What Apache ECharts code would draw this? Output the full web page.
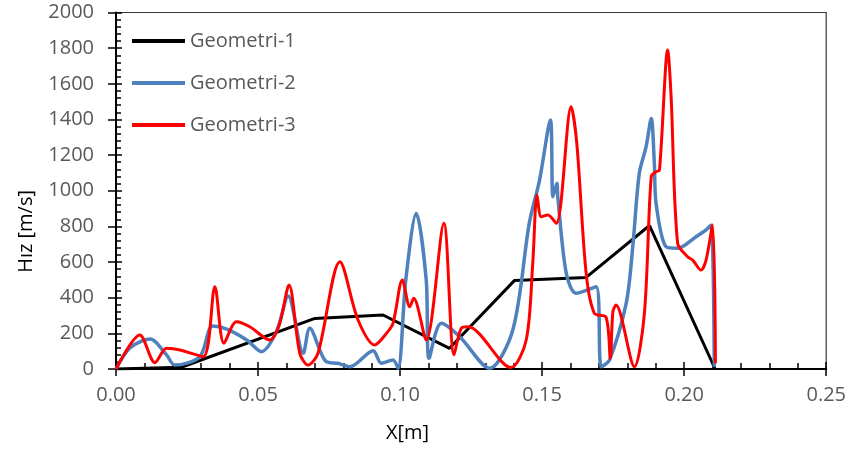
<!DOCTYPE html>
<html><head><meta charset="utf-8">
<script src="https://cdn.jsdelivr.net/npm/echarts@6/dist/echarts.min.js"></script>
<style>html,body{margin:0;padding:0;background:#fff}#c{width:849px;height:459px}</style>
</head><body><div id="c"></div>
<script>
const seriesNames = ['Geometri-1', 'Geometri-2', 'Geometri-3'];
const xTickLabels = ['0.00','0.05','0.10','0.15','0.20','0.25'];
const yTickLabels = ['0','200','400','600','800','1000','1200','1400','1600','1800','2000'];

const g1X = [0, 0.023, 0.070, 0.094, 0.1174, 0.1403, 0.1655, 0.1878, 0.2109];
const g1Y = [0, 10, 284, 303, 116, 497, 514, 805, 0];

const g2X = [0, 0.005, 0.012, 0.0178, 0.0207, 0.0295, 0.034, 0.039, 0.046, 0.0512, 0.0565, 0.0606,
  0.0659, 0.0682, 0.074, 0.078, 0.0823, 0.0905, 0.0934, 0.0975, 0.0993, 0.102, 0.1057, 0.1092, 0.1102,
  0.1145, 0.121, 0.1315, 0.1397, 0.1455, 0.1491, 0.1529, 0.1538, 0.1552, 0.1555, 0.1585, 0.162, 0.169,
  0.1708, 0.1737, 0.1796, 0.1819, 0.1842, 0.1866, 0.1884, 0.1895, 0.1901, 0.1936, 0.1977, 0.2042, 0.2077,
  0.2095, 0.2106];
const g2Y = [0, 120, 168, 79, 22, 69, 241, 224, 163, 97, 210, 410,
  88, 228, 41, 32, 13, 103, 32, 50, 4, 499, 873, 499, 60,
  256, 181, 4, 220, 820, 1060, 1397, 967, 1042, 967, 537, 425, 462,
  13, 50, 369, 686, 1098, 1247, 1406, 1154, 930, 686, 677, 742, 780,
  808, 13];

const g3X = [0, 0.0084, 0.0137, 0.0178, 0.0225, 0.0307, 0.0348, 0.038, 0.0424, 0.0471, 0.0541, 0.0575,
  0.0609, 0.0647, 0.0676, 0.0711, 0.0788, 0.0852, 0.0911, 0.0952, 0.0975, 0.1008, 0.1034, 0.1048, 0.1092,
  0.1154, 0.119, 0.1215, 0.1239, 0.139, 0.1444, 0.1467, 0.1482, 0.1497, 0.152, 0.155, 0.1602, 0.1622,
  0.1655, 0.1684, 0.1725, 0.174, 0.1749, 0.176, 0.1825, 0.186, 0.1884, 0.1901, 0.1913, 0.1942, 0.1954,
  0.1977, 0.2012, 0.203, 0.2059, 0.2077, 0.21, 0.211];
const g3Y = [0, 191, 35, 116, 107, 69, 462, 144, 265, 237, 163, 250,
  471, 88, 22, 88, 602, 275, 135, 200, 256, 499, 349, 397, 163,
  817, 80, 228, 237, 8, 163, 593, 976, 854, 864, 817, 1471, 1266,
  537, 312, 290, 60, 321, 359, 13, 312, 1079, 1107, 1116, 1790, 1528,
  705, 630, 611, 555, 611, 808, 32];

const zip = (xs, ys) => xs.map((x, i) => [x, ys[i]]);
const colors = ['#000000', '#4F81BD', '#FF0000'];
const widths = [3, 3.5, 3];
const smooths = [false, 0.3, 0.3];
const datas = [zip(g1X, g1Y), zip(g2X, g2Y), zip(g3X, g3Y)];

const chart = echarts.init(document.getElementById('c'), null, {renderer: 'canvas'});
const font = 'Open Sans';
const baseX = {
  type: 'value', min: 0, max: 0.25, interval: 0.05, position: 'bottom', gridIndex: 0
};
const baseY = {
  type: 'value', min: 0, max: 2000, interval: 200, position: 'left', gridIndex: 0
};
chart.setOption({
  animation: false,
  grid: {left: 116, right: 22, top: 12.5, bottom: 90, show: true, borderColor: '#3a3a3a', borderWidth: 1.2, backgroundColor: '#fff'},
  legend: {
    orient: 'vertical', left: 132, top: 29, padding: 0, itemWidth: 53, itemHeight: 4, itemGap: 18,
    icon: 'rect',
    textStyle: {fontFamily: font, fontSize: 20, color: '#595959', padding: [0,0,0,0], lineHeight: 24},
    data: seriesNames
  },
  xAxis: [
    Object.assign({}, baseX, {
      axisLine: {show: true, lineStyle: {color: '#000', width: 2}},
      axisTick: {show: true, inside: true, length: 7, lineStyle: {color: '#000', width: 1.5}},
      minorTick: {show: true, splitNumber: 5, length: 6, lineStyle: {color: '#000', width: 1.5}},
      splitLine: {show: false},
      axisLabel: {show: true, margin: 16, fontFamily: font, fontSize: 20, color: '#595959',
        formatter: (v) => { const i = Math.round(v / 0.05); return xTickLabels[i] !== undefined ? xTickLabels[i] : ''; }}
    }),
    Object.assign({}, baseX, {
      axisLine: {show: false},
      axisTick: {show: true, inside: false, length: 7, lineStyle: {color: '#000', width: 1.5}},
      splitLine: {show: false},
      axisLabel: {show: false}
    })
  ],
  yAxis: [
    Object.assign({}, baseY, {
      axisLine: {show: true, lineStyle: {color: '#000', width: 2}},
      axisTick: {show: true, inside: true, length: 6, lineStyle: {color: '#000', width: 1.5}},
      minorTick: {show: true, splitNumber: 5, length: 5, lineStyle: {color: '#000', width: 1.5}},
      splitLine: {show: false},
      axisLabel: {show: true, margin: 22, fontFamily: font, fontSize: 20, color: '#595959',
        formatter: (v) => { const i = Math.round(v / 200); return yTickLabels[i] !== undefined ? yTickLabels[i] : ''; }}
    }),
    Object.assign({}, baseY, {
      axisLine: {show: false},
      axisTick: {show: true, inside: false, length: 8, lineStyle: {color: '#000', width: 1.5}},
      splitLine: {show: false},
      axisLabel: {show: false}
    })
  ],
  graphic: [
    {type: 'text', left: 386, top: 423, style: {text: 'X[m]', font: '20px "Open Sans"', fill: '#000'}},
    {type: 'text', left: 16, top: 190, rotation: Math.PI / 2, origin: [0, 0],
      style: {text: 'Hız [m/s]', font: '20px "Open Sans"', fill: '#000', align: 'center', verticalAlign: 'middle'}}
  ],
  series: seriesNames.map((n, i) => ({
    name: n, type: 'line', xAxisIndex: 0, yAxisIndex: 0, data: datas[i],
    showSymbol: false, symbol: 'none', smooth: smooths[i],
    lineStyle: {color: colors[i], width: widths[i]}, itemStyle: {color: colors[i]}
  }))
});
</script></body></html>
